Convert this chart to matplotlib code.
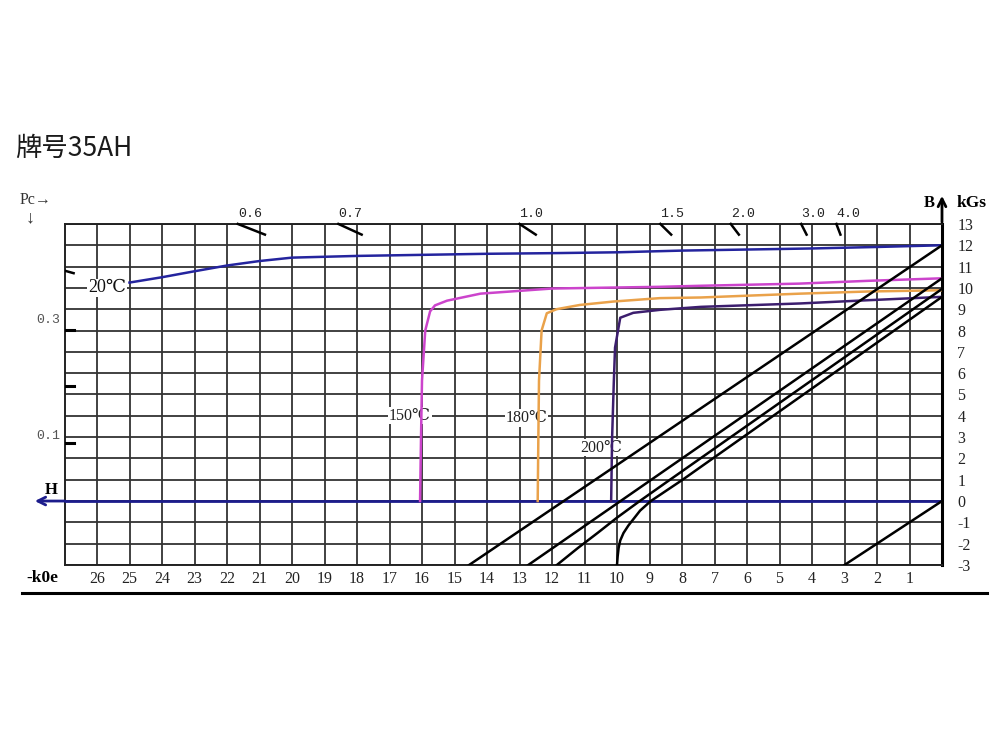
import matplotlib
matplotlib.use('Agg')
import matplotlib.pyplot as plt
from matplotlib.lines import Line2D

plt.rcParams['font.family'] = ['Liberation Serif', 'DejaVu Serif', 'Noto Sans CJK SC']

TITLE = '牌号35AH'

# axis ticks: H in -kOe (reversed), B in kGs
h_ticks = list(range(1, 27))
b_ticks = list(range(-3, 14))

# intrinsic (J-H) curves
j20_h = [25, 24, 23, 22, 21, 20, 18, 16, 14, 12, 10, 8, 6, 4, 2, 0]
j20_b = [10.25, 10.5, 10.78, 11.05, 11.26, 11.42, 11.5, 11.55, 11.6, 11.63, 11.67, 11.75, 11.8, 11.85, 11.92, 12.0]

j150_h = [16.06, 16.03, 16.0, 15.9, 15.75, 15.6, 15.23, 14.2, 12.0, 8.7, 7.4, 4.4, 2.3, 0]
j150_b = [0, 3.0, 5.65, 8.0, 8.9, 9.18, 9.4, 9.73, 9.97, 10.05, 10.1, 10.2, 10.33, 10.45]

j180_h = [12.44, 12.42, 12.40, 12.32, 12.16, 11.86, 11.14, 10.11, 8.68, 7.42, 4.36, 2.3, 0]
j180_b = [0, 3.0, 5.65, 8.0, 8.81, 9.0, 9.2, 9.36, 9.52, 9.55, 9.73, 9.83, 9.89]

j200_h = [10.18, 10.15, 10.1, 10.06, 9.9, 9.5, 8.68, 7.42, 4.36, 2.3, 0]
j200_b = [0, 3.0, 5.5, 7.2, 8.6, 8.83, 8.97, 9.11, 9.27, 9.42, 9.58]

# normal (B-H) curves
b20_h = [0, 14.55]
b20_b = [12.0, -3.0]
b150_h = [0, 12.73]
b150_b = [10.45, -3.0]
b180_h = [0, 8.5, 9.3, 10.0, 10.6, 11.2, 11.85]
b180_b = [9.95, 0.86, 0.0, -0.78, -1.5, -2.2, -3.0]
b200_h = [0, 4, 8, 8.96, 9.29, 9.47, 9.65, 9.8, 9.9, 9.95, 9.98, 10.0]
b200_b = [9.58, 5.28, 0.98, 0, -0.45, -0.8, -1.15, -1.5, -1.85, -2.2, -2.6, -3.0]

# B = -H reference line
ref_h = [0, 3]
ref_b = [0, -3]

# permeance coefficient marks along the top
pc_values = [0.6, 0.7, 1.0, 1.5, 2.0, 3.0, 4.0]
pc_labels = ['0.6', '0.7', '1.0', '1.5', '2.0', '3.0', '4.0']

# marks on the left Pc scale
left_marks_b = [8.03, 5.4, 2.72]

NAVY = '#1c1c8c'
BLUE = '#24249e'
MAGENTA = '#cc44cc'
ORANGE = '#eaa24a'
PURPLE = '#3c1e6e'

fig = plt.figure(figsize=(10, 7.5), dpi=100)
ax = fig.add_axes([0.0645, 0.2467, 0.8775, 0.4547])
ax.set_xlim(27, 0)
ax.set_ylim(-3, 13)

ax.set_xticks(h_ticks)
ax.set_xticklabels([str(h) for h in h_ticks])
ax.set_yticks(b_ticks)
ax.set_yticklabels([str(b) for b in b_ticks])
ax.yaxis.tick_right()
ax.tick_params(axis='both', length=0, labelsize=11.5, colors='#222222')
ax.tick_params(axis='x', pad=4)
ax.tick_params(axis='y', pad=11)
ax.grid(True, color='#333333', lw=1.3, zorder=1)
ax.set_axisbelow(True)
for name, sp in ax.spines.items():
    sp.set_color('#222222')
    sp.set_linewidth(1.4)
ax.spines['right'].set_linewidth(2.2)
ax.spines['right'].set_color('black')

# H axis (B = 0) with arrow to the left
ax.plot([0, 27], [0, 0], color=NAVY, lw=2, zorder=3)
ax.annotate('', xy=(28.0, 0), xytext=(26.9, 0),
            arrowprops=dict(arrowstyle='->', color=NAVY, lw=2, mutation_scale=14),
            annotation_clip=False)
# B axis arrow upward
ax.annotate('', xy=(0, 14.45), xytext=(0, 12.95),
            arrowprops=dict(arrowstyle='->', color='black', lw=2, mutation_scale=14),
            annotation_clip=False)

ax.plot(j20_h, j20_b, color=BLUE, lw=1.8, zorder=4)
ax.plot(j150_h, j150_b, color=MAGENTA, lw=1.8, zorder=4)
ax.plot(j180_h, j180_b, color=ORANGE, lw=1.8, zorder=4)
ax.plot(j200_h, j200_b, color=PURPLE, lw=1.8, zorder=4)

for hs, bs in [(b20_h, b20_b), (b150_h, b150_b), (b180_h, b180_b), (b200_h, b200_b), (ref_h, ref_b)]:
    ax.plot(hs, bs, color='black', lw=1.8, zorder=4)

# Pc marks: short pieces of the load lines B = Pc * H near the top
for pc, lab in zip(pc_values, pc_labels):
    ax.plot([13.0 / pc, 12.5 / pc], [13.0, 12.5], color='black', lw=1.8,
            clip_on=False, zorder=5)
    ax.text(13.0 / pc, 13.45, lab, family='Liberation Mono', fontsize=9.5,
            ha='left', va='center', color='#222222')

# left Pc scale marks
ax.plot([27, 26.72], [10.81, 10.69], color='black', lw=1.8, zorder=5)
for b in left_marks_b:
    ax.plot([27, 26.7], [b, b], color='black', lw=2.2, zorder=5)

# temperature labels
lbl_box = dict(facecolor='white', edgecolor='none', pad=0.5)
ax.text(25.69, 10.0, '20℃', fontsize=13, ha='center', va='center',
        bbox=lbl_box, zorder=2, color='#111111')
ax.text(16.37, 4.0, '150℃', fontsize=11.5, ha='center', va='center',
        bbox=lbl_box, zorder=2, color='#222222')
ax.text(12.78, 3.9, '180℃', fontsize=11.5, ha='center', va='center',
        bbox=lbl_box, zorder=2, color='#222222')
ax.text(10.5, 2.5, '200℃', fontsize=11.5, ha='center', va='center',
        bbox=lbl_box, zorder=2, color='#222222')

# texts outside the axes
fig.text(0.015, 1 - 148 / 750, TITLE, family=['Noto Sans CJK SC'], fontsize=19,
         ha='left', va='center', color='#1a1a1a')
fig.text(0.020, 1 - 200 / 750, 'Pc→', fontsize=11.5, ha='left', va='center', color='#333333')
fig.text(0.030, 1 - 218 / 750, '↓', fontsize=13, ha='center', va='center', color='#333333')
fig.text(0.048, 1 - 320 / 750, '0.3', family='Liberation Mono', fontsize=9.5,
         ha='center', va='center', color='#555555')
fig.text(0.048, 1 - 436 / 750, '0.1', family='Liberation Mono', fontsize=9.5,
         ha='center', va='center', color='#555555')
fig.text(0.051, 1 - 490 / 750, 'H', fontsize=12, fontweight='bold', ha='center', va='center')
fig.text(0.042, 1 - 578 / 750, '-k0e', fontsize=12.5, fontweight='bold', ha='center', va='center')
fig.text(0.929, 1 - 203 / 750, 'B', fontsize=12, fontweight='bold', ha='center', va='center')
fig.text(0.972, 1 - 203 / 750, 'kGs', fontsize=12.5, fontweight='bold', ha='center', va='center')

# bottom rule
fig.add_artist(Line2D([0.022, 0.987], [1 - 593 / 750, 1 - 593 / 750],
                      color='black', lw=2.2, transform=fig.transFigure))

fig.savefig('out.png', dpi=100)
